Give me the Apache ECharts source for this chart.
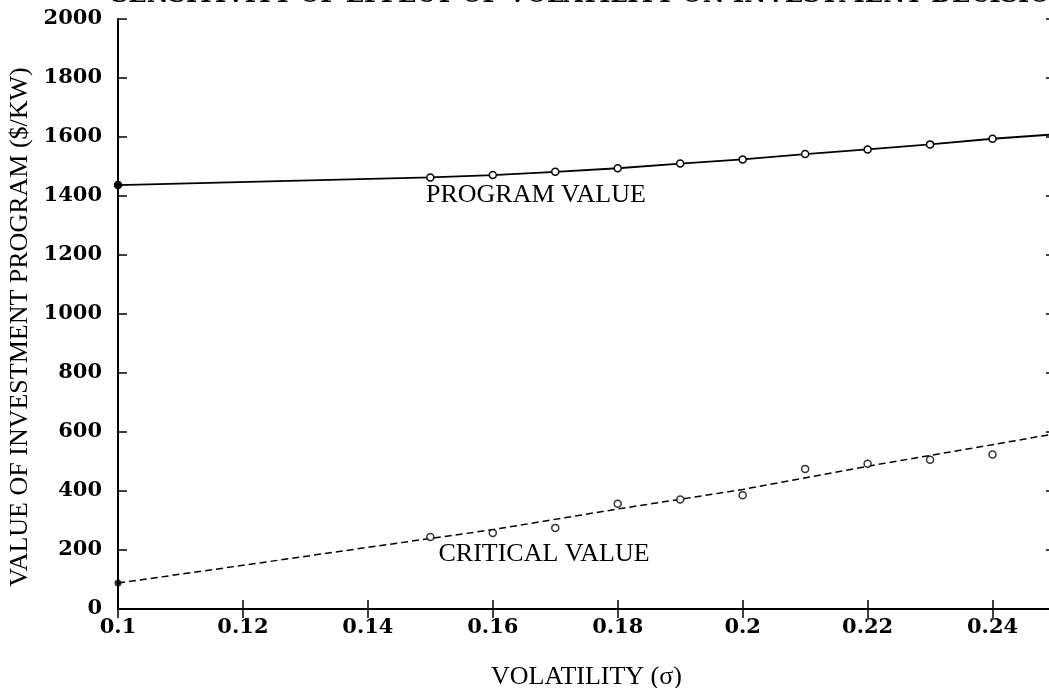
<!DOCTYPE html>
<html>
<head>
<meta charset="utf-8">
<script src="https://cdn.jsdelivr.net/npm/echarts@6/dist/echarts.min.js"></script>
<style>
html,body{margin:0;padding:0;background:#fff;}
#chart{width:1049px;height:688px;}
</style>
</head>
<body>
<div id="chart"></div>
<script>
// ---- data ----
const titleText = 'SENSITIVITY OF EFFECT OF VOLATILITY ON INVESTMENT DECISION';
const xAxisTitle = 'VOLATILITY (\u03C3)';
const yAxisTitle = 'VALUE OF INVESTMENT PROGRAM ($/KW)';
const volatility = [0.15, 0.16, 0.17, 0.18, 0.19, 0.20, 0.21, 0.22, 0.23, 0.24];
const programPoints = [1463, 1471, 1482, 1494, 1510, 1524, 1542, 1558, 1575, 1594];
const criticalPoints = [244, 258, 275, 357, 371, 386, 475, 492, 506, 524];
const programStart = [0.10, 1437];
const programEnd = [0.25, 1609];
const criticalStart = [0.10, 88];
const criticalCurveX = [0.10, 0.12, 0.14, 0.16, 0.18, 0.20, 0.22, 0.24, 0.25];
const criticalCurveY = [88, 148, 209, 269, 339, 405, 484, 557, 594];
const programLabel = 'PROGRAM VALUE';
const criticalLabel = 'CRITICAL VALUE';

// ---- chart ----
const chart = echarts.init(document.getElementById('chart'));
const serif = '"Liberation Serif", "Times New Roman", serif';
const boldSerif = '"DejaVu Serif", serif';

const programLine = [programStart].concat(volatility.map((x, i) => [x, programPoints[i]])).concat([programEnd]);
const criticalLine = criticalCurveX.map((x, i) => [x, criticalCurveY[i]]);
const criticalMarks = volatility.map((x, i) => [x, criticalPoints[i]]);

const tickLabelStyle = {color: '#000', fontFamily: boldSerif, fontWeight: 'bold', fontSize: 21};
const axisLine = {show: true, lineStyle: {color: '#000', width: 2}};
const axisTick = {show: true, inside: true, length: 9, lineStyle: {color: '#000', width: 1.5}};
const annoLabel = {show: true, position: 'inside', formatter: '{b}', fontFamily: serif, fontSize: 26, color: '#000'};

const option = {
  animation: false,
  backgroundColor: '#fff',
  title: {
    text: titleText,
    left: 106, top: -21,
    textStyle: {fontFamily: boldSerif, fontWeight: 'bold', fontSize: 24, color: '#000'}
  },
  graphic: [{
    type: 'text', x: 20, y: 327, rotation: Math.PI / 2,
    style: {text: yAxisTitle, fontFamily: serif, fontSize: 26, fill: '#000',
      textAlign: 'center', textVerticalAlign: 'middle'}
  }],
  grid: {left: 118, top: 19, width: 937, height: 590, containLabel: false, outerBoundsMode: 'none'},
  xAxis: [{
    type: 'value', min: 0.1, max: 0.25, interval: 0.02,
    position: 'bottom',
    axisLine: axisLine, axisTick: axisTick, splitLine: {show: false},
    axisLabel: Object.assign({margin: 8, showMaxLabel: false, formatter: v => String(parseFloat(v.toFixed(2)))}, tickLabelStyle),
    name: xAxisTitle, nameLocation: 'middle', nameGap: 55,
    nameTextStyle: {fontFamily: serif, fontSize: 26, color: '#000'}
  }, {
    type: 'value', min: 0.1, max: 0.25, interval: 0.02,
    position: 'top',
    axisLine: {show: true, lineStyle: {color: '#000', width: 1.5}}, axisTick: axisTick,
    splitLine: {show: false}, axisLabel: {show: false}
  }],
  yAxis: [{
    type: 'value', min: 0, max: 2000, interval: 200,
    position: 'left',
    axisLine: axisLine, axisTick: axisTick, splitLine: {show: false},
    axisLabel: Object.assign({margin: 16, formatter: v => String(v)}, tickLabelStyle)
  }, {
    type: 'value', min: 0, max: 2000, interval: 200,
    position: 'right',
    axisLine: {show: true, lineStyle: {color: '#000', width: 1.5}}, axisTick: axisTick,
    splitLine: {show: false}, axisLabel: {show: false}
  }],
  series: [{
    type: 'line', name: 'program',
    data: programLine.map((p, i) => {
      if (i === 0) return {value: p, symbol: 'circle', symbolSize: 7, itemStyle: {color: '#000', borderColor: '#000'}};
      if (i === programLine.length - 1) return {value: p, symbol: 'none'};
      return {value: p};
    }),
    symbol: 'circle', symbolSize: 7, showAllSymbol: true,
    itemStyle: {color: '#fff', borderColor: '#000', borderWidth: 1.5},
    lineStyle: {color: '#000', width: 1.8},
    markPoint: {symbol: 'circle', symbolSize: 0, label: annoLabel,
      data: [{name: programLabel, coord: [0.1669, 1403]}]},
    z: 3
  }, {
    type: 'line', name: 'critical curve',
    data: criticalLine, symbol: 'none',
    lineStyle: {color: '#000', width: 1.5, type: [7, 4]},
    markPoint: {symbol: 'circle', symbolSize: 0, label: annoLabel,
      data: [{name: criticalLabel, coord: [0.1682, 186]}]},
    z: 2
  }, {
    type: 'scatter', name: 'critical',
    data: criticalMarks, symbol: 'circle', symbolSize: 7,
    itemStyle: {color: '#fff', borderColor: '#000', borderWidth: 1.5},
    z: 4
  }, {
    type: 'scatter', name: 'critical start',
    data: [criticalStart], symbol: 'circle', symbolSize: 7,
    itemStyle: {color: '#000'},
    z: 4
  }]
};
chart.setOption(option);
</script>
</body>
</html>
